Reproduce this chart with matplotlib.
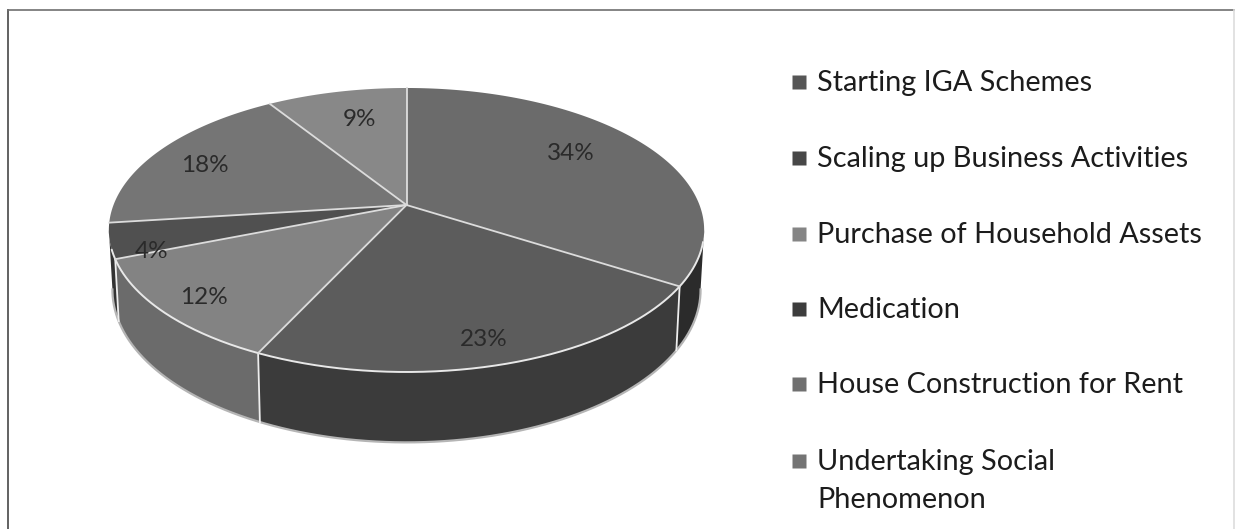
import numpy as np
import matplotlib
matplotlib.use('Agg')
import matplotlib.pyplot as plt
from matplotlib.patches import Polygon

#Chart data
categories = ['Starting IGA Schemes', 'Scaling up Business Activities', 'Purchase of Household Assets',
              'Medication', 'House Construction for Rent', 'Undertaking Social\nPhenomenon']
values = [34, 23, 12, 4, 18, 9]

#Greys from the scan
top_colors = ['#6b6b6b', '#5c5c5c', '#838383', '#505050', '#757575', '#888888']
wall_colors = ['#2b2b2b', '#3b3b3b', '#6b6b6b', '#333333', '#5a5a5a', '#666666']
legend_colors = ['#565656', '#474747', '#858585', '#3d3d3d', '#707070', '#747474']

#Layout in pixels
label_x = [571, 484, 204, 152, 205, 360]
label_y = [153, 339, 298, 252, 166, 119]
legend_y = [82, 158, 234, 309, 384, 461]
cx, cy = 406.5, 205
rx, ry = 293, 137.6
tilt = 0.176
depth = 58
shrink = 0.988

plt.rcParams['font.family'] = ['Lato', 'DejaVu Sans']


#Angle is clockwise from 12 o'clock in degrees, perspective squeezes the far side
def rim(deg, lower=False):
    t = np.radians(deg)
    x = np.sin(t)
    y = np.cos(t)
    w = 1 + tilt * y
    sx = rx * x / w
    sy = -ry * y / w
    if lower:
        return cx + sx * shrink, cy + sy + depth / w
    return cx + sx, cy + sy


fig = plt.figure(figsize=(12.36, 5.29), dpi=100)
ax = fig.add_axes([0, 0, 1, 1])
ax.set_xlim(0, 1236)
ax.set_ylim(529, 0)
ax.axis('off')

#Frame has no bottom edge in the scan
ax.plot([8, 8], [529, 10], color='#555555', lw=1.3)
ax.plot([8, 1234], [10, 10], color='#707070', lw=1.2)
ax.plot([1234, 1234], [10, 529], color='#dddddd', lw=1.2)

edges = np.cumsum([0] + values) / sum(values) * 360
vis_start, vis_end = 100, 260

#Side walls, only the part facing the viewer
for i in range(len(values)):
    a = max(edges[i], vis_start)
    b = min(edges[i + 1], vis_end)
    if a >= b:
        continue
    ang = np.linspace(a, b, 80)
    up = np.array([rim(d) for d in ang])
    low = np.array([rim(d, True) for d in ang])
    ax.add_patch(Polygon(np.vstack([up, low[::-1]]), closed=True, fc=wall_colors[i], ec='none', zorder=2))

#Light line under the wall
ang = np.linspace(vis_start, vis_end, 300)
low = np.array([rim(d, True) for d in ang])
ax.plot(low[:, 0], low[:, 1], color='#b5b5b5', lw=1.6, zorder=3)

#Wall separators
for e in edges[1:-1]:
    if vis_start < e < vis_end:
        p = rim(e)
        q = rim(e, True)
        ax.plot([p[0], q[0]], [p[1], q[1]], color='#eeeeee', lw=1.3, zorder=3)

#Top faces
for i in range(len(values)):
    ang = np.linspace(edges[i], edges[i + 1], 120)
    pts = np.array([rim(d) for d in ang])
    pts = np.vstack([[cx, cy], pts])
    ax.add_patch(Polygon(pts, closed=True, fc=top_colors[i], ec='none', zorder=4))

#Front rim and spokes
ang = np.linspace(105, 252, 300)
up = np.array([rim(d) for d in ang])
ax.plot(up[:, 0], up[:, 1], color='#e8e8e8', lw=1.4, zorder=5)
for e in edges[:-1]:
    p = rim(e)
    ax.plot([cx, p[0]], [cy, p[1]], color='#dcdcdc', lw=1.3, zorder=5)

for i in range(len(values)):
    ax.text(label_x[i], label_y[i], f'{values[i]}%', fontsize=17.5, color='#2a2a2a',
            ha='center', va='center', zorder=6)

#Legend
for i in range(len(categories)):
    ax.plot(798.5, legend_y[i], marker='s', ms=10.6, color=legend_colors[i], mec='none', zorder=6)
    ax.text(817, legend_y[i] + 1, categories[i].split('\n')[0], fontsize=20.8, color='#1c1c1c',
            va='center', ha='left')
    if '\n' in categories[i]:
        ax.text(817, legend_y[i] + 39, categories[i].split('\n')[1], fontsize=20.8, color='#1c1c1c',
                va='center', ha='left')

fig.savefig('out.png', dpi=100)
